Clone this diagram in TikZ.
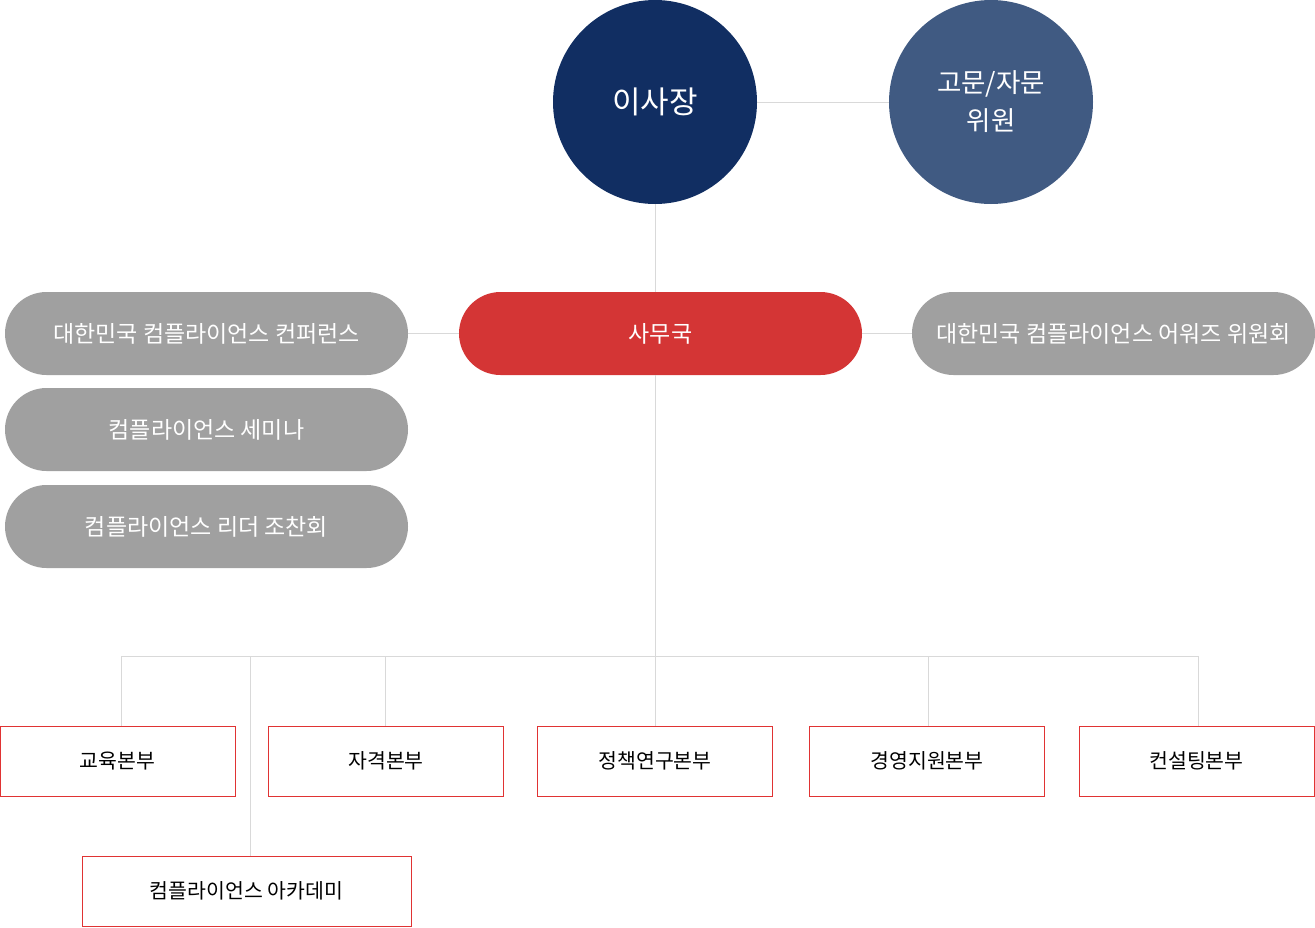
\documentclass[tikz,border=0pt]{standalone}
\usepackage{fontspec}
\setmainfont{Noto Sans CJK KR}
\definecolor{navy}{HTML}{112E62}
\definecolor{slate}{HTML}{405A82}
\definecolor{secred}{HTML}{D43535}
\definecolor{pillgray}{HTML}{A0A0A0}
\definecolor{linegray}{HTML}{D9D9D9}
\definecolor{boxred}{HTML}{E03333}
\begin{document}
\begin{tikzpicture}[x=1pt,y=-1pt,
  conn/.style={draw=linegray, line width=1pt},
  bigcircle/.style={circle, minimum size=204pt, inner sep=0pt, text=white},
  pill/.style={rectangle, rounded corners=41.5pt, minimum width=403pt, minimum height=83pt, inner sep=0pt, text=white, font=\fontsize{23}{27}\selectfont},
  dept/.style={rectangle, draw=boxred, line width=1pt, fill=white, minimum width=235pt, minimum height=70pt, inner sep=0pt, text=black, font=\fontsize{20.5}{24}\selectfont}
]
\useasboundingbox (0,0) rectangle (1315,927);

% top circles
\node[bigcircle, fill=navy, font=\fontsize{31}{36}\selectfont] (ceo) at (655,102) {이사장};
\node[bigcircle, fill=slate, align=center, font=\fontsize{26.5}{38}\selectfont] (adv) at (991,102) {고문/자문\\위원};

% pills
\node[pill, fill=secred] (sec) at (660.5,333.5) {사무국};
\node[pill, fill=pillgray] (conf) at (206.5,333.5) {대한민국 컴플라이언스 컨퍼런스};
\node[pill, fill=pillgray] (semi) at (206.5,429.5) {컴플라이언스 세미나};
\node[pill, fill=pillgray] (lead) at (206.5,526.5) {컴플라이언스 리더 조찬회};
\node[pill, fill=pillgray] (award) at (1113.5,333.5) {대한민국 컴플라이언스 어워즈 위원회};

% departments
\node[dept] (d1) at (117.5,761) {교육본부};
\node[dept] (d2) at (386,761) {자격본부};
\node[dept] (d3) at (655,761) {정책연구본부};
\node[dept] (d4) at (927,761) {경영지원본부};
\node[dept] (d5) at (1196.5,761) {컨설팅본부};
\node[dept, minimum width=329pt] (acad) at (246.5,891) {컴플라이언스 아카데미};

% bus coordinates
\coordinate (busL) at (121,656);
\coordinate (busR) at (1198,656);
\coordinate (t1) at (121,726);
\coordinate (t2) at (385,726);
\coordinate (t4) at (928,726);
\coordinate (t6) at (1198,726);
\coordinate (ta) at (250,656);
\coordinate (tac) at (250,856);
\coordinate (secbot) at (655,375);
\coordinate (sectop) at (655,292);

% connectors
\draw[conn] (ceo.east) -- (adv.west);
\draw[conn] (ceo.south) -- (sectop);
\draw[conn] (conf.east) -- (sec.west);
\draw[conn] (sec.east) -- (award.west);
\draw[conn] (secbot) -- (d3.north);
\draw[conn] (busL) -- (busR);
\draw[conn] (busL) -- (t1);
\draw[conn] (t2 |- busL) -- (t2);
\draw[conn] (t4 |- busL) -- (t4);
\draw[conn] (busR) -- (t6);
\draw[conn] (ta) -- (tac);
\end{tikzpicture}
\end{document}
